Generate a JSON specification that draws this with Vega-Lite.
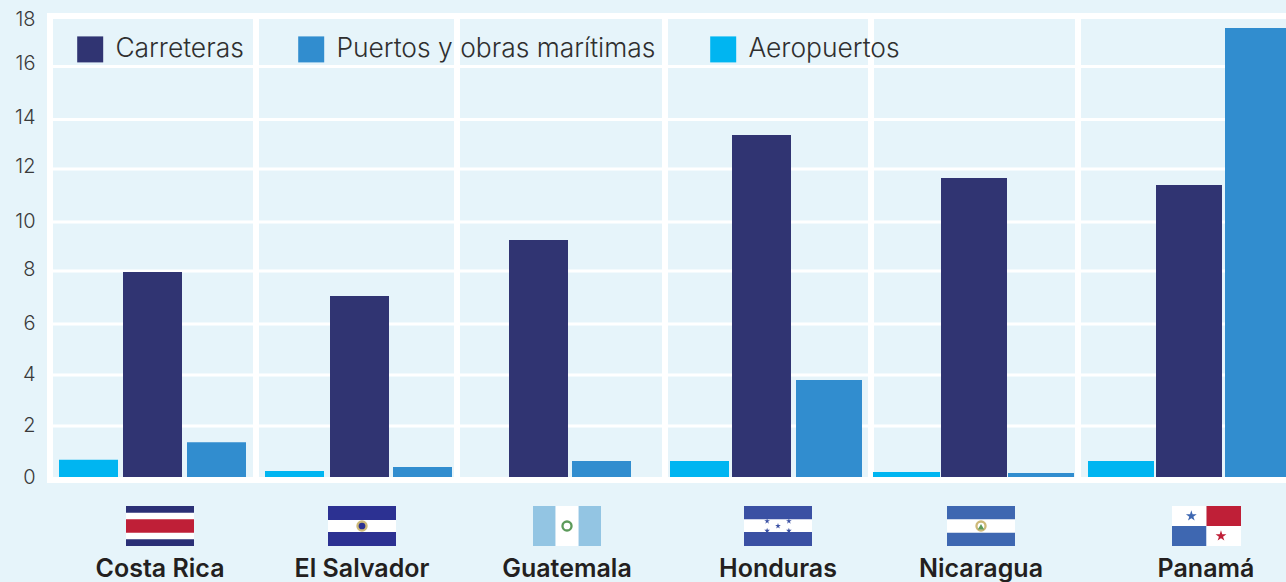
{
"$schema":"https://vega.github.io/schema/vega-lite/v6.json",
"width":1239,"height":470,
"autosize":{"type":"none"},
"padding":{"left":47,"top":13,"right":0,"bottom":99},
"background":"#e6f4fa",
"config":{"view":{"stroke":null},"font":"Inter"},
"datasets":{
"ticks":[{"v":0},{"v":2},{"v":4},{"v":6},{"v":8},{"v":10},{"v":12},{"v":14},{"v":16},{"v":18}],
"seps":[{"i":0},{"i":1},{"i":2},{"i":3},{"i":4},{"i":5}],
"bars":[
{"pais":"Costa Rica","tipo":"Aeropuertos","slot":0,"valor":0.75},
{"pais":"Costa Rica","tipo":"Carreteras","slot":1,"valor":7.96},
{"pais":"Costa Rica","tipo":"Puertos y obras marítimas","slot":2,"valor":1.4},
{"pais":"El Salvador","tipo":"Aeropuertos","slot":3,"valor":0.33},
{"pais":"El Salvador","tipo":"Carreteras","slot":4,"valor":7.06},
{"pais":"El Salvador","tipo":"Puertos y obras marítimas","slot":5,"valor":0.48},
{"pais":"Guatemala","tipo":"Aeropuertos","slot":6,"valor":0},
{"pais":"Guatemala","tipo":"Carreteras","slot":7,"valor":9.27},
{"pais":"Guatemala","tipo":"Puertos y obras marítimas","slot":8,"valor":0.7},
{"pais":"Honduras","tipo":"Aeropuertos","slot":9,"valor":0.7},
{"pais":"Honduras","tipo":"Carreteras","slot":10,"valor":13.37},
{"pais":"Honduras","tipo":"Puertos y obras marítimas","slot":11,"valor":3.8},
{"pais":"Nicaragua","tipo":"Aeropuertos","slot":12,"valor":0.3},
{"pais":"Nicaragua","tipo":"Carreteras","slot":13,"valor":11.66},
{"pais":"Nicaragua","tipo":"Puertos y obras marítimas","slot":14,"valor":0.26},
{"pais":"Panamá","tipo":"Aeropuertos","slot":15,"valor":0.7},
{"pais":"Panamá","tipo":"Carreteras","slot":16,"valor":11.4},
{"pais":"Panamá","tipo":"Puertos y obras marítimas","slot":17,"valor":17.52}
],
"paises":[{"i":0,"pais":"Costa Rica"},{"i":1,"pais":"El Salvador"},{"i":2,"pais":"Guatemala"},{"i":3,"pais":"Honduras"},{"i":4,"pais":"Nicaragua"},{"i":5,"pais":"Panamá"}],
"franjas":[
{"a":0,"b":1,"c":0,"d":1,"parte":"marino"},
{"a":0,"b":1,"c":0.17,"d":0.83,"parte":"blanco"},
{"a":0,"b":1,"c":0.33,"d":0.67,"parte":"rojo"},
{"a":2,"b":3,"c":0,"d":1,"parte":"anil"},
{"a":2,"b":3,"c":0.35,"d":0.65,"parte":"blanco"},
{"a":4,"b":5,"c":0,"d":1,"parte":"celeste"},
{"a":4.33,"b":4.67,"c":0,"d":1,"parte":"blanco"},
{"a":6,"b":7,"c":0,"d":1,"parte":"cobalto"},
{"a":6,"b":7,"c":0.35,"d":0.67,"parte":"blanco"},
{"a":8,"b":9,"c":0,"d":1,"parte":"azul"},
{"a":8,"b":9,"c":0.33,"d":0.67,"parte":"blanco"},
{"a":10,"b":10.5,"c":0.5,"d":1,"parte":"blanco"},
{"a":10.5,"b":11,"c":0.5,"d":1,"parte":"rojo"},
{"a":10,"b":10.5,"c":0,"d":0.5,"parte":"azul"},
{"a":10.5,"b":11,"c":0,"d":0.5,"parte":"blanco"}
],
"figuras":[
{"a":2.5,"c":0.5,"parte":"oro","figura":"ovalo"},
{"a":2.5,"c":0.5,"parte":"anil","figura":"punto"},
{"a":4.5,"c":0.5,"parte":"verde","figura":"ovalo"},
{"a":4.5,"c":0.5,"parte":"blanco","figura":"punto"},
{"a":6.34,"c":0.62,"parte":"cobalto","figura":"estrellita"},
{"a":6.66,"c":0.62,"parte":"cobalto","figura":"estrellita"},
{"a":6.5,"c":0.5,"parte":"cobalto","figura":"estrellita"},
{"a":6.34,"c":0.38,"parte":"cobalto","figura":"estrellita"},
{"a":6.66,"c":0.38,"parte":"cobalto","figura":"estrellita"},
{"a":8.5,"c":0.5,"parte":"oro","figura":"ovalo"},
{"a":8.5,"c":0.5,"parte":"blanco","figura":"punto"},
{"a":8.5,"c":0.48,"parte":"verde","figura":"triangulo"},
{"a":10.28,"c":0.75,"parte":"azul","figura":"estrella"},
{"a":10.71,"c":0.25,"parte":"rojo","figura":"estrella"}
]
},
"layer":[
{"data":{"name":"ticks"},
 "mark":{"type":"rule","color":"#ffffff"},
 "encoding":{
  "y":{"field":"v","type":"quantitative","axis":null,
   "scale":{"domain":[0,2,4,6,8,10,12,14,16,18],"range":[467,413,362,311,258,209,156,106.5,53.5,3],"nice":false,"zero":false}},
  "strokeWidth":{"condition":{"test":"datum.v===18","value":6},"value":3.2}}},
{"data":{"name":"ticks"},
 "mark":{"type":"rule","opacity":0},
 "encoding":{
  "y":{"field":"v","type":"quantitative",
   "axis":{"orient":"left","values":[0,2,4,6,8,10,12,14,16,18],"title":null,"domain":false,"ticks":false,"grid":false,"labelPadding":12,"labelFontSize":20,"labelFont":"Inter","labelFontWeight":300,"labelColor":"#3a3a3a","labelBaseline":"middle"},
   "scale":{"domain":[0,2,4,6,8,10,12,14,16,18],"range":[464,412,361,310,256,208,153,104,50,6],"nice":false,"zero":false}}}},
{"data":{"name":"seps"},
 "mark":{"type":"rule","color":"#ffffff","strokeWidth":6},
 "encoding":{
  "x":{"field":"i","type":"quantitative","axis":null,
   "scale":{"domain":[0,1,2,3,4,5],"range":[3,209,410,618,824,1031],"nice":false,"zero":false}}}},
{"data":{"name":"bars"},
 "mark":{"type":"bar","orient":"vertical"},
 "encoding":{
  "x":{"field":"slot","type":"quantitative","axis":null,
   "scale":{"domain":[0,1,2,3,4,5,6,7,8,9,10,11,12,13,14,15,16,17],"range":[41.5,105.5,169.5,247.5,312.5,375.5,427.5,491.5,554.5,652.5,714.5,782,859.5,927,994,1074,1142,1211],"nice":false,"zero":false,"padding":0}},
  "y":{"field":"valor","type":"quantitative","stack":null,"axis":null,
   "scale":{"domain":[0,2,4,6,8,10,12,14,16,18],"range":[467,413,362,311,258,209,156,106.5,53.5,3],"nice":false,"zero":false}},
  "size":{"field":"slot","type":"nominal","legend":null,
   "scale":{"type":"ordinal","domain":[0,1,2,3,4,5,6,7,8,9,10,11,12,13,14,15,16,17],"range":[59,59,59,59,59,59,59,59,59,59,59,66,67,66,66,66,66,66]}},
  "color":{"field":"tipo","type":"nominal",
   "scale":{"domain":["Carreteras","Puertos y obras marítimas","Aeropuertos"],"range":["#303472","#318dcf","#00b5f1"]},
   "legend":{"title":null,"orient":"none","legendX":30,"legendY":23,"direction":"horizontal","columns":3,"symbolType":"square","symbolSize":676,"symbolStrokeWidth":0,"symbolOpacity":1,"labelFontSize":26.4,"labelFont":"Inter","labelFontWeight":300,"labelColor":"#2f2f2f","labelOffset":12,"columnPadding":54,"labelLimit":500,"gridAlign":"each"}}}},
{"data":{"values":[{"v":0}]},
 "mark":{"type":"rule","color":"#ffffff","strokeWidth":6},
 "encoding":{
  "y":{"field":"v","type":"quantitative","axis":null,
   "scale":{"domain":[0,18],"range":[467,3],"nice":false,"zero":false}}}},
{"data":{"name":"franjas"},
 "mark":{"type":"rect"},
 "encoding":{
  "x":{"field":"a","type":"quantitative","axis":null,
   "scale":{"domain":[0,1,2,3,4,5,6,7,8,9,10,11],"range":[79,147,281,349,486,554,697,765,900,968,1125,1194],"nice":false,"zero":false}},
  "x2":{"field":"b"},
  "y":{"field":"c","type":"quantitative","axis":null,
   "scale":{"domain":[0,1],"range":[533,493],"nice":false,"zero":false}},
  "y2":{"field":"d"},
  "color":{"field":"parte","type":"nominal","legend":null,
   "scale":{"domain":["marino","blanco","rojo","anil","celeste","cobalto","azul"],"range":["#2b3076","#ffffff","#bf1f37","#2c3192","#93c5e3","#3a50a3","#3e67b1"]}}}},
{"data":{"name":"figuras"},
 "mark":{"type":"point","filled":true,"opacity":1},
 "encoding":{
  "x":{"field":"a","type":"quantitative","axis":null,
   "scale":{"domain":[0,1,2,3,4,5,6,7,8,9,10,11],"range":[79,147,281,349,486,554,697,765,900,968,1125,1194],"nice":false,"zero":false}},
  "y":{"field":"c","type":"quantitative","axis":null,
   "scale":{"domain":[0,1],"range":[533,493],"nice":false,"zero":false}},
  "shape":{"field":"figura","type":"nominal","legend":null,
   "scale":{"domain":["ovalo","punto","estrellita","estrella","triangulo"],"range":["circle","circle","M0,-1L0.22,-0.31L0.95,-0.31L0.36,0.12L0.59,0.81L0,0.38L-0.59,0.81L-0.36,0.12L-0.95,-0.31L-0.22,-0.31Z","M0,-1L0.22,-0.31L0.95,-0.31L0.36,0.12L0.59,0.81L0,0.38L-0.59,0.81L-0.36,0.12L-0.95,-0.31L-0.22,-0.31Z","triangle-up"]}},
  "size":{"field":"figura","type":"nominal","legend":null,
   "scale":{"type":"ordinal","domain":["ovalo","punto","estrellita","estrella","triangulo"],"range":[130,45,36,130,40]}},
  "color":{"field":"parte","type":"nominal","legend":null,
   "scale":{"domain":["oro","anil","verde","blanco","cobalto","azul","rojo"],"range":["#cdb978","#2c3192","#5c9a5a","#ffffff","#3a50a3","#3e67b1","#bf1f37"]}}}},
{"data":{"name":"paises"},
 "mark":{"type":"text","font":"Inter","fontWeight":600,"fontSize":25,"color":"#231f20","baseline":"alphabetic","align":"center"},
 "encoding":{
  "x":{"field":"i","type":"quantitative","axis":null,
   "scale":{"domain":[0,1,2,3,4,5],"range":[113,315,520,731,934,1159],"nice":false,"zero":false}},
  "y":{"datum":-0.775,"type":"quantitative","axis":null,
   "scale":{"domain":[0,1],"range":[533,493],"nice":false,"zero":false}},
  "text":{"field":"pais","type":"nominal"}}}
],
"resolve":{"scale":{"x":"independent","y":"independent","color":"independent","size":"independent","shape":"independent"},"axis":{"x":"independent","y":"independent"},"legend":{"color":"independent"}}
}
